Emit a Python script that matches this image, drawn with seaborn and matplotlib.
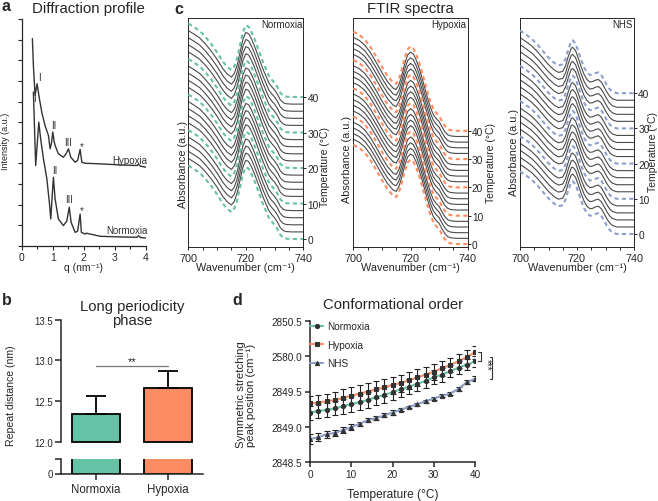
import numpy as np
import pandas as pd
import matplotlib
matplotlib.use('Agg')
import matplotlib.pyplot as plt
import seaborn as sns

sns.set_style('ticks')
plt.rcParams['font.family'] = ['Liberation Sans', 'DejaVu Sans']
plt.rcParams['axes.linewidth'] = 0.9

# ---------------- data ----------------
# a: diffraction profile
q_hyp = [0.344, 0.376, 0.43, 0.495, 0.57, 0.645, 0.75, 0.86, 0.914, 0.96, 1.0, 1.04, 1.075,
         1.18, 1.34, 1.42, 1.505, 1.58, 1.72, 1.80, 1.88, 1.935, 2.04, 2.53, 3.17, 3.71,
         3.76, 3.82, 4.0]
i_hyp = [10.05, 8.75, 7.3, 7.86, 7.14, 6.49, 5.84, 5.36, 4.71, 5.0, 5.52, 5.1, 4.87,
         4.47, 4.3, 4.45, 4.71, 4.30, 4.06, 4.15, 4.68, 4.06, 4.01, 3.98, 3.93, 3.9,
         3.96, 3.87, 3.82]
q_nor = [0.376, 0.45, 0.55, 0.61, 0.70, 0.81, 0.89, 0.935, 0.98, 1.02, 1.075, 1.18, 1.34,
         1.45, 1.53, 1.59, 1.72, 1.80, 1.88, 1.92, 2.04, 2.08, 2.53, 3.17, 3.71, 3.76,
         3.82, 4.0]
i_nor = [7.46, 3.9, 6.0, 5.19, 4.22, 3.25, 2.12, 1.31, 2.4, 3.33, 2.28, 1.31, 0.99,
         1.2, 1.88, 1.15, 0.66, 0.72, 1.55, 0.66, 0.58, 0.62, 0.47, 0.44, 0.42, 0.5,
         0.41, 0.39]
peak_names = ['I', 'II', 'III', '*']
hyp_peak_q = [0.495, 1.0, 1.505, 1.88]
nor_peak_q = [0.55, 1.02, 1.53, 1.88]

# b: long periodicity phase
groups_b = ['Normoxia', 'Hypoxia']
repeat_mean = [12.34, 12.66]
repeat_err = [0.22, 0.21]
sig_b = '**'
sig_b_level = 12.93

# c: FTIR spectra, one band shape per condition, stacked by temperature
ftir_temps = [0, 2, 4, 6, 8, 10, 12, 14, 16, 18, 20, 22, 24, 26, 28, 30, 32, 34, 36, 38, 40]
ftir_marked = [0, 10, 20, 30, 40]
wn_nor = [700, 702, 704, 706, 708, 710, 712, 713.5, 715, 716, 717, 718, 719, 720, 721,
          722, 723, 724, 725, 726, 727, 728, 729, 730, 731, 732, 733, 734, 736, 740]
ab_nor = [20.7, 19.7, 18.6, 16.9, 14.9, 12.6, 10.0, 8.5, 7.6, 8.6, 11.0, 14.6, 18.3, 20.2, 19.8,
          18.3, 16.4, 14.2, 12.0, 9.8, 7.9, 6.0, 4.9, 4.0, 2.8, 1.2, 0.4, 0.1, 0.0, 0.0]
wn_hyp = [700, 702, 704, 706, 708, 710, 712, 714, 715, 716, 717, 718, 719, 720, 721,
          722, 723, 724, 725, 726, 727, 728, 729, 730, 731, 732, 733, 734, 736, 740]
ab_hyp = [35.0, 34.0, 32.3, 29.6, 26.2, 22.6, 19.3, 17.0, 16.6, 18.4, 21.8, 25.8, 28.8, 29.8, 29.1,
          27.0, 24.2, 20.8, 17.1, 13.5, 10.2, 7.7, 6.3, 5.3, 3.4, 1.7, 0.6, 0.2, 0.0, 0.0]
wn_nhs = [700, 702, 704, 706, 708, 710, 712, 713.5, 715, 716, 717, 718, 718.5, 719.5, 720.5,
          721.5, 722.5, 723.5, 724.5, 725.5, 726.5, 727.5, 728.5, 729.5, 730.5, 731.5, 732.5, 734, 740]
ab_nhs = [17.8, 16.7, 15.5, 13.9, 12.0, 10.1, 8.6, 7.9, 8.2, 9.8, 12.6, 14.8, 15.0, 14.1, 11.8,
          9.4, 7.3, 5.9, 5.2, 5.3, 5.7, 5.9, 5.2, 3.8, 2.3, 1.1, 0.4, 0.0, 0.0]

# d: conformational order
temps_d = [0, 2, 4, 6, 8, 10, 12, 14, 16, 18, 20, 22, 24, 26, 28, 30, 32, 34, 36, 38, 40]
peak_nor = [2849.20, 2849.22, 2849.24, 2849.26, 2849.29, 2849.32, 2849.35, 2849.38, 2849.42, 2849.45,
            2849.49, 2849.53, 2849.57, 2849.61, 2849.65, 2849.70, 2849.74, 2849.79, 2849.84, 2849.88, 2849.93]
peak_hyp = [2849.33, 2849.34, 2849.36, 2849.38, 2849.41, 2849.44, 2849.47, 2849.50, 2849.53, 2849.56,
            2849.59, 2849.62, 2849.66, 2849.70, 2849.74, 2849.78, 2849.83, 2849.88, 2849.93, 2849.99, 2850.06]
peak_nhs = [2848.82, 2848.85, 2848.89, 2848.91, 2848.95, 2848.99, 2849.04, 2849.09, 2849.12, 2849.16,
            2849.20, 2849.24, 2849.28, 2849.32, 2849.36, 2849.40, 2849.44, 2849.47, 2849.54, 2849.63, 2849.68]
err_nor = [0.10, 0.10, 0.10, 0.10, 0.11, 0.11, 0.11, 0.11, 0.11, 0.11, 0.11, 0.11, 0.11, 0.10,
           0.10, 0.10, 0.10, 0.09, 0.09, 0.08, 0.08]
err_hyp = [0.11, 0.11, 0.11, 0.11, 0.12, 0.12, 0.12, 0.12, 0.12, 0.12, 0.12, 0.12, 0.12, 0.12,
           0.11, 0.11, 0.11, 0.10, 0.10, 0.10, 0.09]
err_nhs = [0.07, 0.06, 0.05, 0.04, 0.04, 0.04, 0.03, 0.03, 0.03, 0.03, 0.03, 0.02, 0.02, 0.02,
           0.02, 0.02, 0.02, 0.02, 0.03, 0.03, 0.035]
d_groups = ['Normoxia', 'Hypoxia', 'NHS']
d_ticks = [2848.5, 2849.0, 2849.5, 2850.0, 2850.5]
d_ticklabels = ['2848.5', '2849.0', '2849.5', '2580.0', '2850.5']
sig_d = '***'

pal = sns.color_palette('Set2', 3)
colors = {'Normoxia': pal[0], 'Hypoxia': pal[1], 'NHS': pal[2]}

W, H = 658, 502


def box(x0, y0, x1, y1):
    return [x0 / W, 1 - y1 / H, (x1 - x0) / W, (y1 - y0) / H]


fig = plt.figure(figsize=(W / 100, H / 100), dpi=100)


def ftext(x, y, s, **kw):
    kw.setdefault('ha', 'center')
    kw.setdefault('va', 'center')
    fig.text(x / W, 1 - y / H, s, **kw)


# ---------------- a ----------------
ax = fig.add_axes(box(21.7, 20, 146, 247))
sns.lineplot(x=q_hyp, y=i_hyp, sort=False, estimator=None, color='#333333', lw=1.0, ax=ax)
sns.lineplot(x=q_nor, y=i_nor, sort=False, estimator=None, color='#333333', lw=1.0, ax=ax)
ax.set_xlim(0, 4)
ax.set_ylim(0, 11)
ax.set_yticks(np.arange(0, 12))
ax.set_yticklabels([])
ax.set_xticks([0, 1, 2, 3, 4])
ax.set_xticks([0.5, 1.5, 2.5, 3.5], minor=True)
sns.despine(ax=ax)
ax.tick_params(direction='out', length=3, width=0.8, labelsize=7.5, pad=1.5)
ax.tick_params(which='minor', length=2, width=0.8)
hyp_off = [(1.5, 1.5), (1, 1.5), (0, 1), (1, -1)]
nor_off = [(-3, 14), (1, 1.5), (0, 2), (1, -1)]
for name, pq, off in zip(peak_names, hyp_peak_q, hyp_off):
    ax.annotate(name, (pq, np.interp(pq, q_hyp, i_hyp)), xytext=off, textcoords='offset points',
                ha='center', va='bottom', fontsize=7, color='#333333')
for name, pq, off in zip(peak_names, nor_peak_q, nor_off):
    ax.annotate(name, (pq, np.interp(pq, q_nor, i_nor)), xytext=off, textcoords='offset points',
                ha='center', va='bottom', fontsize=7, color='#333333')
ax.annotate('Hypoxia', (q_hyp[-1], i_hyp[-1]), xytext=(1, 1.5), textcoords='offset points',
            ha='right', va='bottom', fontsize=7, color='#333333')
ax.annotate('Normoxia', (q_nor[-1], i_nor[-1]), xytext=(1, 2), textcoords='offset points',
            ha='right', va='bottom', fontsize=7, color='#333333')
ftext(88, 9, 'Diffraction profile', fontsize=10.8)
ftext(6, 141, 'Intensity (a.u.)', rotation=90, fontsize=6.5)
ftext(84, 268, 'q (nm\u207b\u00b9)', fontsize=7.5)

# ---------------- c ----------------
ftir = [
    ('Normoxia', wn_nor, ab_nor, (188.3, 303.3), (-2.25, 62.25), (183, 165), (325, 167.5)),
    ('Hypoxia', wn_hyp, ab_hyp, (353.3, 467.7), (-1.06, 79.86), (347.5, 160), (491, 163)),
    ('NHS', wn_nhs, ab_nhs, (520, 634), (-3.69, 61.36), (514, 152.5), (653.5, 152)),
]
for name, wn, ab, (x0, x1), ylim, abs_pos, tmp_pos in ftir:
    axc = fig.add_axes(box(x0, 19, x1, 248))
    for T in ftir_temps:
        y = np.array(ab) + T
        if T in ftir_marked:
            axc.plot(wn, y, color=colors[name], lw=1.5, ls=(0, (2, 1.6)), zorder=3)
        else:
            axc.plot(wn, y, color='#4a4a4a', lw=0.8, zorder=2)
    axc.set_xlim(700, 740)
    axc.set_ylim(*ylim)
    axc.set_xticks([700, 720, 740])
    axc.set_xticks([705, 710, 715, 725, 730, 735], minor=True)
    axc.yaxis.tick_right()
    axc.set_yticks(ftir_marked)
    axc.tick_params(axis='x', direction='out', length=2.5, width=0.7, labelsize=7.8, pad=1.5)
    axc.tick_params(axis='x', which='minor', direction='out', length=2, width=0.7)
    axc.tick_params(axis='y', direction='out', length=2, width=0.7, labelsize=7.3, pad=1.0)
    for s in axc.spines.values():
        s.set_linewidth(0.7)
    axc.text(0.99, 0.995, name, transform=axc.transAxes, ha='right', va='top', fontsize=7)
    ftext(abs_pos[0], abs_pos[1], 'Absorbance (a.u.)', rotation=90, fontsize=7.8)
    ftext(tmp_pos[0], tmp_pos[1], 'Temperature (\u00b0C)', rotation=90, fontsize=7.5)
    ftext((x0 + x1) / 2, 268, 'Wavenumber (cm\u207b\u00b9)', fontsize=7.8)
ftext(410.5, 8.5, 'FTIR spectra', fontsize=10.8)

# ---------------- b ----------------
axb_top = fig.add_axes(box(61, 320.7, 203, 442.7))
axb_bot = fig.add_axes(box(61, 460, 203, 474.5))
for axb in (axb_top, axb_bot):
    sns.barplot(x=groups_b, y=repeat_mean, hue=groups_b, palette=[colors[g] for g in groups_b],
                legend=False, width=0.66, edgecolor='black', linewidth=1.3, saturation=1, ax=axb)
    axb.set_xlim(-0.488, 1.49)
axb_top.set_ylim(12.0, 13.5)
for p in axb_top.patches:
    p.set_height(p.get_y() + p.get_height() - 12.0)
    p.set_y(12.0)
    p.set_clip_on(False)
axb_top.errorbar(range(len(groups_b)), repeat_mean, yerr=[[0] * len(repeat_err), repeat_err],
                 fmt='none', ecolor='black', elinewidth=1.3, capsize=7, capthick=1.3)
axb_top.plot([0, 1], [sig_b_level, sig_b_level], color='#777777', lw=0.9)
axb_top.text(0.5, sig_b_level, sig_b, ha='center', va='bottom', fontsize=8)
axb_top.set_yticks([12.0, 12.5, 13.0, 13.5])
axb_top.set_yticklabels(['12.0', '12.5', '13.0', '13.5'])
axb_top.set_xticks([])
sns.despine(ax=axb_top, bottom=True)
axb_bot.set_ylim(0, 1)
axb_bot.set_yticks([0, 1])
axb_bot.set_yticklabels(['0', ''])
sns.despine(ax=axb_bot)
for axb in (axb_top, axb_bot):
    axb.set_xlabel('')
    axb.tick_params(direction='out', length=4, width=1.1, labelsize=6.9, pad=1.5)
    for s in axb.spines.values():
        s.set_linewidth(1.1)
axb_bot.tick_params(axis='x', labelsize=8.3, pad=3)
ftext(132.5, 314, 'Long periodicity\nphase', fontsize=10.7, linespacing=1.05)
ftext(11, 396, 'Repeat distance (nm)', rotation=90, fontsize=7.6)

# ---------------- d ----------------
axd = fig.add_axes(box(310, 322.3, 475, 462.7))
df_d = pd.DataFrame({
    'T': temps_d * 3,
    'peak': peak_nor + peak_hyp + peak_nhs,
    'group': ['Normoxia'] * len(temps_d) + ['Hypoxia'] * len(temps_d) + ['NHS'] * len(temps_d),
})
sns.lineplot(data=df_d, x='T', y='peak', hue='group', style='group', palette=colors,
             markers={'Normoxia': 'o', 'Hypoxia': 's', 'NHS': '^'}, dashes=False,
             lw=1.5, markersize=3, mfc='#333333', mec='#333333', legend=False, ax=axd)
for vals, errs in zip([peak_nor, peak_hyp, peak_nhs], [err_nor, err_hyp, err_nhs]):
    axd.errorbar(temps_d, vals, yerr=errs, fmt='none', ecolor='#222222', elinewidth=0.8,
                 capsize=2.2, capthick=0.8, zorder=1)
axd.legend(handles=axd.lines[:3], labels=d_groups, loc='upper left', bbox_to_anchor=(0.0, 1.0),
           frameon=False, fontsize=7.2, handlelength=1.3, handletextpad=0.4, labelspacing=0.85,
           borderaxespad=0, borderpad=0)
axd.set_xlim(0, 40)
axd.set_ylim(2848.5, 2850.5)
axd.set_xticks([0, 10, 20, 30, 40])
axd.set_yticks(d_ticks)
axd.set_yticklabels(d_ticklabels)
axd.set_xlabel('')
axd.set_ylabel('')
sns.despine(ax=axd)
axd.tick_params(direction='out', length=3.5, width=1.1, labelsize=7.2, pad=2)
for s in axd.spines.values():
    s.set_linewidth(1.1)
# significance brackets beyond the last point
b1 = (peak_hyp[-1], peak_nor[-1])
b2 = ((b1[0] + b1[1]) / 2, peak_nhs[-1])
for xb, (ya, yb) in [(41.4, b1), (44.2, b2)]:
    axd.plot([xb - 0.6, xb, xb, xb - 0.6], [ya, ya, yb, yb], color='#333333', lw=0.8, clip_on=False)
axd.text(42.8, (b2[0] + b2[1]) / 2 + 0.06, sig_d, rotation=270, ha='center', va='center', fontsize=7)
ftext(392.7, 305, 'Conformational order', fontsize=10.7)
ftext(246, 395, 'Symmetric stretching\npeak position (cm\u207b\u00b9)', rotation=90, fontsize=8.2,
      linespacing=1.05)
ftext(392.5, 495, 'Temperature (\u00b0C)', fontsize=8.6)

# panel letters
for letter, (x, y) in zip('abcd', [(2, -1), (2, 293), (174, 2), (232, 293)]):
    ftext(x, y, letter, ha='left', va='top', fontsize=11.5, fontweight='bold')

fig.savefig('out.png', dpi=100)
